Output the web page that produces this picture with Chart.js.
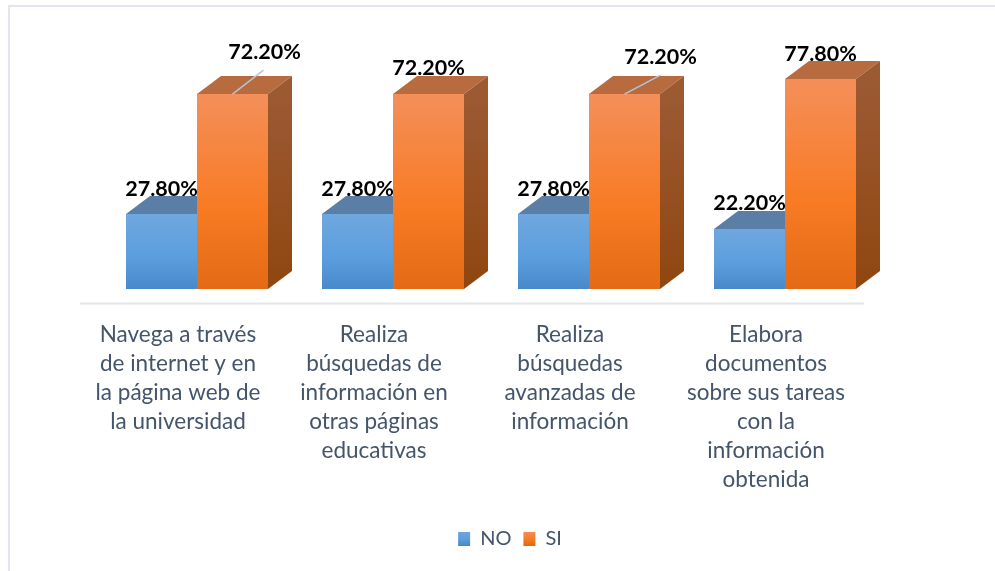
<!DOCTYPE html>
<html>
<head>
<meta charset="utf-8">
<style>
html, body { margin: 0; padding: 0; background: #ffffff; overflow: hidden; }
canvas { display: block; }
</style>
<script src="https://cdn.jsdelivr.net/npm/chart.js@4"></script>
</head>
<body>
<canvas id="chart" width="995" height="571"></canvas>
<script>
var categories = [
    ["Navega a través", "de internet y en", "la página web de", "la universidad"],
    ["Realiza", "búsquedas de", "información en", "otras páginas", "educativas"],
    ["Realiza", "búsquedas", "avanzadas de", "información"],
    ["Elabora", "documentos", "sobre sus tareas", "con la", "información", "obtenida"]
];
var valuesNo = [27.8, 27.8, 27.8, 22.2];
var valuesSi = [72.2, 72.2, 72.2, 77.8];

const DEPTH_X = 24;
const DEPTH_Y = 18;
const FLOOR_DROP = 14.5;
const FLOOR_SHIFT = 19;
const LEGEND_SHIFT = 19;

// label nudges from the default spot above the bar, per dataset then category
const LABEL_NUDGE = [
    [[0, -25], [0, -25], [0, -25], [0, -26]],
    [[32, -42], [0, -26], [36, -37], [0, -25]]
];
const LEADER_END = [null, [[31, -24], null, [36, -19], null]];

const FACES = [
    { front: ["#70a7df", "#5b9ede", "#4889ca"], top: "#5a7ea6", side: ["#4f7aa5", "#3f6f9e"] },
    { front: ["#f48f5a", "#f87b24", "#e46a15"], top: "#b86b3f", side: ["#9c5a33", "#8f4610"] }
];

function frontGradient(ctx, top, bottom, colors) {
    var g = ctx.createLinearGradient(0, top, 0, bottom);
    g.addColorStop(0, colors[0]);
    g.addColorStop(0.58, colors[1]);
    g.addColorStop(1, colors[2]);
    return g;
}

function barFill(index) {
    return function (c) {
        var y = c.chart.scales.y;
        if (!y || !isFinite(c.raw)) return FACES[index].front[1];
        return frontGradient(c.chart.ctx, y.getPixelForValue(c.raw), y.getPixelForValue(0), FACES[index].front);
    };
}

function drawFace(ctx, pts, fill) {
    ctx.beginPath();
    ctx.moveTo(pts[0][0], pts[0][1]);
    for (var i = 1; i < pts.length; i++) ctx.lineTo(pts[i][0], pts[i][1]);
    ctx.closePath();
    ctx.fillStyle = fill;
    ctx.fill();
}

var bars3d = {
    id: "bars3d",
    afterLayout: function (chart) {
        // legend sits right of the plot centre
        chart.legend.left += LEGEND_SHIFT;
        chart.legend.right += LEGEND_SHIFT;
    },
    beforeDraw: function (chart) {
        var ctx = chart.ctx, area = chart.chartArea;
        ctx.save();
        // outer frame of the chart, only top and left show
        ctx.strokeStyle = "#e3e6ec";
        ctx.lineWidth = 2;
        ctx.beginPath();
        ctx.moveTo(9, 571);
        ctx.lineTo(9, 6);
        ctx.lineTo(995, 6);
        ctx.stroke();
        // floor line
        ctx.beginPath();
        ctx.moveTo(area.left - FLOOR_SHIFT, area.bottom + FLOOR_DROP);
        ctx.lineTo(area.right - FLOOR_SHIFT, area.bottom + FLOOR_DROP);
        ctx.stroke();
        ctx.restore();
    },
    beforeDatasetsDraw: function (chart) {
        // top and side faces go under every front face
        var ctx = chart.ctx;
        ctx.save();
        chart.data.datasets.forEach(function (ds, d) {
            var face = FACES[d];
            chart.getDatasetMeta(d).data.forEach(function (el) {
                var left = el.x - el.width / 2, right = el.x + el.width / 2;
                drawFace(ctx, [[left, el.y], [left + DEPTH_X, el.y - DEPTH_Y], [right + DEPTH_X, el.y - DEPTH_Y], [right, el.y]], face.top);
                var g = ctx.createLinearGradient(0, el.y, 0, el.base);
                g.addColorStop(0, face.side[0]);
                g.addColorStop(1, face.side[1]);
                drawFace(ctx, [[right, el.y], [right + DEPTH_X, el.y - DEPTH_Y], [right + DEPTH_X, el.base - DEPTH_Y], [right, el.base]], g);
            });
        });
        ctx.restore();
    },
    afterDatasetsDraw: function (chart) {
        var ctx = chart.ctx;
        ctx.save();
        ctx.textAlign = "center";
        ctx.textBaseline = "middle";
        ctx.font = "bold 21.5px Lato";
        chart.data.datasets.forEach(function (ds, d) {
            chart.getDatasetMeta(d).data.forEach(function (el, i) {
                var leader = LEADER_END[d] && LEADER_END[d][i];
                if (leader) {
                    ctx.strokeStyle = "#b4c4d6";
                    ctx.lineWidth = 1.5;
                    ctx.beginPath();
                    ctx.moveTo(el.x, el.y);
                    ctx.lineTo(el.x + leader[0], el.y + leader[1]);
                    ctx.stroke();
                }
                var nudge = LABEL_NUDGE[d][i];
                ctx.fillStyle = "#000000";
                ctx.fillText(ds.data[i].toFixed(2) + "%", el.x + nudge[0], el.y + nudge[1]);
            });
        });
        ctx.restore();
    }
};

var chart = new Chart(document.getElementById("chart"), {
    type: "bar",
    plugins: [bars3d],
    data: {
        labels: categories,
        datasets: [
            { label: "NO", data: valuesNo, backgroundColor: barFill(0), categoryPercentage: 0.7245, barPercentage: 1 },
            { label: "SI", data: valuesSi, backgroundColor: barFill(1), categoryPercentage: 0.7245, barPercentage: 1 }
        ]
    },
    options: {
        responsive: false,
        animation: false,
        layout: { padding: { left: 99, right: 112, top: 46, bottom: 12 } },
        scales: {
            x: {
                grid: { display: false, drawTicks: false },
                border: { display: false },
                afterFit: function (scale) { scale.height = 228; },
                ticks: {
                    autoSkip: false,
                    maxRotation: 0,
                    padding: 31,
                    labelOffset: -19,
                    color: "#44546a",
                    font: { family: "Lato", size: 22.5, lineHeight: 1.29 }
                }
            },
            y: { display: false, min: 0, max: 90 }
        },
        plugins: {
            tooltip: { enabled: false },
            title: { display: false },
            legend: {
                position: "bottom",
                labels: {
                    boxWidth: 12,
                    boxHeight: 14,
                    padding: 12,
                    color: "#44546a",
                    font: { family: "Lato", size: 20 },
                    generateLabels: function (c) {
                        return c.data.datasets.map(function (ds, i) {
                            return {
                                text: ds.label,
                                datasetIndex: i,
                                fillStyle: frontGradient(c.ctx, 531, 545, FACES[i].front),
                                strokeStyle: "transparent",
                                lineWidth: 0,
                                fontColor: "#44546a"
                            };
                        });
                    }
                }
            }
        }
    }
});
</script>
</body>
</html>
